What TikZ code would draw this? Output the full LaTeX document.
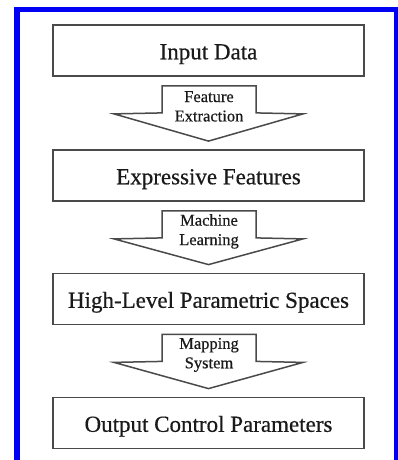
\documentclass[tikz,border=0pt]{standalone}
\usepackage{fontspec}
\setmainfont{Liberation Serif}[FakeBold=0.5]
\usetikzlibrary{calc}
\definecolor{boxgray}{HTML}{4A4A4A}
\definecolor{txt}{HTML}{1A1A1A}
\definecolor{frameblue}{HTML}{0000F5}
\newcommand\blockarrow[3]{%
  \draw[barrow] ($(#1.south)+(-46.5,9)$) -- ($(#1.south)+(47.5,9)$) -- ($(#1.south)+(47.5,36)$)
    -- ($(#1.south)+(94.5,37)$) -- ($(#2.north)+(0,-8)$) -- ($(#1.south)+(-94.5,37)$)
    -- ($(#1.south)+(-46.5,36)$) -- cycle;
  \node[alabel] at ($(#1.south)+(0.5,29.5)$) {#3};}
\begin{document}
\begin{tikzpicture}[x=1pt,y=-1pt,
  box/.style={draw=boxgray, line width=1.8pt, minimum width=311pt, minimum height=51pt,
    inner sep=0pt, text=txt, font=\fontsize{23}{27}\selectfont, text height=17.6pt, text depth=0pt},
  barrow/.style={draw=boxgray, line width=1.5pt, fill=white, line join=miter},
  alabel/.style={text=txt, font=\fontsize{16.5}{19.4}\selectfont, align=center, inner sep=0pt}]
\useasboundingbox (0,0) rectangle (398,460);
\clip (0,0) rectangle (398,460);
\fill[white] (0,0) rectangle (398,460);
\draw[frameblue, line width=5.5pt] (17,9.7) rectangle (396.5,480);
\node[box] (b1) at (208.5,50.5) {Input Data};
\node[box] (b2) at (208.5,175.5) {Expressive Features};
\node[box] (b3) at (208.5,299) {High-Level Parametric Spaces};
\node[box] (b4) at (208.5,423) {Output Control Parameters};
\blockarrow{b1}{b2}{Feature\\Extraction}
\blockarrow{b2}{b3}{Machine\\Learning}
\blockarrow{b3}{b4}{Mapping\\System}
\end{tikzpicture}
\end{document}
